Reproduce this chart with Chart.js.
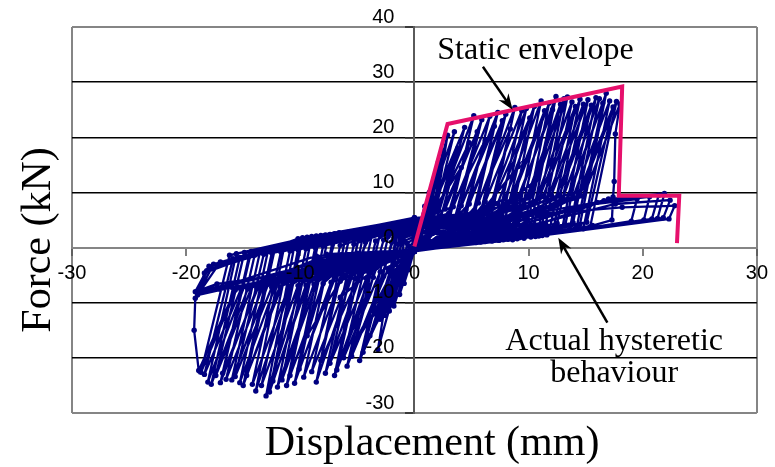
<!DOCTYPE html>
<html><head><meta charset="utf-8">
<script src="https://cdn.jsdelivr.net/npm/chart.js@4"></script>
<style>html,body{margin:0;padding:0;background:#fff}canvas{display:block}</style>
</head><body>
<canvas id="c" width="775" height="467"></canvas>
<script>
// ---------- data ----------
const xTicks = [-30, -20, -10, 0, 10, 20, 30];
const yTicks = [-30, -20, -10, 0, 10, 20, 30, 40];
const xTitle = 'Displacement (mm)';
const yTitle = 'Force (kN)';

// static envelope (displacement mm, force kN)
const envelopeDisp  = [0, 2.9, 18.2, 17.9, 23.2, 23.0];
const envelopeForce = [0.2, 22.4, 29.2, 9.4, 9.4, 0.8];

// measured hysteresis, one list of [displacement, force] per load cycle
const cycles = [
 [[0,0],[0.5,4],[0.25,1],[0,-0.3],[-0.5,-4],[-0.25,-0.5]],
 [[0,0.8],[0.9,7.5],[0.45,1.4],[0,-0.5],[-0.9,-6.5],[-0.45,0.2]],
 [[0,1.2],[1.3,10],[0.65,1.6],[0,-0.4],[-1.3,-8.5],[-0.65,0.8]],
 [[0,1.6],[0.5,3.4],[1.7,12.5],[0.9,1.8],[0,-0.6],[-0.6,-3],[-1.8,-10.6],[-0.9,1.2]],
 [[0,2.0],[0.7,3.8],[2.1,15.5],[1.1,2.0],[0,-0.2],[-0.8,-3.2],[-2.2,-11.5],[-1.1,1.6]],
 [[0,2.4],[0.9,4.2],[2.5,17.5],[1.3,2.2],[0,-0.5],[-1.0,-3.4],[-2.6,-12.3],[-1.3,2.0]],
 [[0,2.7],[1.0,4.6],[2.9,20.4],[1.5,2.5],[0.6,0.9],[0,-0.3],[-1.1,-3.6],[-3.0,-13],[-1.5,2.2]],
 [[0,3.0],[1.1,5.0],[3.2,15],[1.6,2.6],[0.7,1.0],[0,-0.6],[-1.2,-3.8],[-3.2,-18.5],[-1.6,2.4]],
 [[0,3.3],[0.9,5.6],[3.5,21],[1.4,3.0],[0.8,1.2],[0,-0.2],[-1.0,-4.0],[-3.5,-12],[-1.0,1.2],[-0.4,3.2]],
 [[0,3.5],[0.9,5.1],[3.8,18],[1.6,2.6],[0.9,0.9],[0,-0.5],[-0.9,-4.4],[-3.9,-16],[-1.4,0.6],[-0.6,3.4]],
 [[0,3.8],[1.0,4.7],[4.1,14.5],[1.8,3.4],[1.0,1.0],[0,-0.7],[-1.2,-3.9],[-4.2,-14],[-1.8,1.8],[-0.8,3.6]],
 [[0,4.0],[1.2,6.0],[4.4,21.8],[2.1,3.8],[1.2,1.4],[0,-0.4],[-1.3,-4.6],[-4.5,-19],[-2.0,1.0],[-1.0,3.6]],
 [[0,4.2],[1.6,5.4],[4.8,19],[2.5,2.8],[1.4,1.1],[0,-0.6],[-1.6,-4.2],[-4.8,-20.5],[-2.3,2.0],[-1.2,3.2]],
 [[0,4.4],[2.0,6.6],[5.2,23.9],[2.9,3.6],[1.6,0.9],[0,-0.3],[-2.0,-4.8],[-5.2,-17],[-2.7,1.4],[-1.4,3.7]],
 [[0,3.6],[2.3,5.8],[5.5,21],[3.2,2.6],[1.8,1.3],[0,-0.5],[-2.3,-3.8],[-5.5,-19.7],[-3.0,2.6],[-1.6,3.0]],
 [[0,4.6],[2.7,7.0],[5.9,23.2],[3.6,3.9],[2.0,1.6],[0,-0.2],[-2.7,-5.2],[-5.9,-21.5],[-3.4,1.2],[-1.8,3.4]],
 [[0,4.1],[3.0,6.2],[6.2,19.5],[3.9,2.9],[2.2,1.0],[0,-0.7],[-3.0,-4.4],[-6.2,-20],[-3.7,2.4],[-2.0,3.9]],
 [[0,4.8],[3.4,7.4],[6.6,23.8],[4.3,4.0],[2.4,1.5],[0,-0.4],[-3.3,-3.6],[-6.5,-9],[-4.0,1.6],[-2.2,2.8]],
 [[0,3.2],[3.2,2.6],[3.8,6.0],[7.0,22],[4.7,2.7],[2.6,0.8],[0,-0.6],[-3.1,-2.0],[-3.6,-5.4],[-6.8,-22.2],[-4.3,1.0],[-2.4,3.6]],
 [[0,4.9],[3.3,4.6],[4.1,7.6],[7.3,24.5],[5.0,3.6],[2.8,1.4],[0,-0.3],[-3.2,-3.4],[-3.8,-4.6],[-7.0,-23.2],[-4.5,2.2],[-2.6,2.6]],
 [[0,4.3],[3.5,3.4],[4.5,6.8],[7.7,23],[5.4,2.9],[3.0,1.1],[0,-0.5],[-3.3,-1.4],[-4.2,-5.6],[-7.4,-21],[-4.9,1.4],[-2.8,3.5]],
 [[0,5.0],[3.6,5.4],[4.8,7.9],[8.0,24.2],[5.7,4.1],[3.2,1.7],[0,-0.2],[-3.5,-3.9],[-4.6,-4.4],[-7.8,-22.8],[-5.3,0.6],[-3.0,2.4]],
 [[0,2.8],[3.8,2.2],[5.2,6.4],[8.4,21.5],[6.1,2.5],[3.4,0.9],[0,-0.7],[-3.7,-2.6],[-5.0,-5.8],[-8.2,-20.5],[-5.7,1.8],[-3.2,3.4]],
 [[0,5.1],[4.0,4.2],[5.6,8.1],[8.8,25.4],[6.5,3.4],[3.6,1.3],[0,-0.4],[-3.9,-1.2],[-5.4,-4.8],[-8.6,-24.4],[-6.1,1.2],[-3.4,2.9]],
 [[0,4.0],[4.1,6.0],[5.9,6.6],[9.1,14.7],[6.8,3.8],[3.8,1.6],[0,-0.6],[-4.1,-4.3],[-5.8,-6.0],[-9.0,-22.5],[-6.5,0.4],[-3.6,2.2]],
 [[0,4.7],[4.2,3.0],[6.2,8.3],[9.4,24.8],[7.1,2.7],[4.0,0.9],[0,-0.3],[-4.2,-2.2],[-6.2,-5.0],[-9.4,-16],[-6.9,1.6],[-3.8,3.3]],
 [[0,5.2],[4.4,5.0],[6.6,7.6],[9.8,25.2],[7.5,3.3],[4.2,1.2],[0,-0.5],[-4.4,-3.6],[-6.5,-6.1],[-9.7,-23.5],[-7.2,0.8],[-4.0,2.6]],
 [[0,3.9],[4.5,2.4],[6.9,8.5],[10.1,23.5],[7.8,4.0],[4.4,1.7],[0,-0.7],[-4.5,-1.6],[-6.9,-5.2],[-10.1,-22],[-7.6,1.4],[-4.2,3.1]],
 [[0,5.0],[4.7,4.4],[7.3,8.0],[10.5,25.6],[8.2,2.6],[4.6,1.0],[0,-0.2],[-4.7,-4.4],[-7.3,-6.3],[-10.5,-24.6],[-8.0,0.3],[-4.4,2.0]],
 [[0,4.4],[4.8,3.6],[7.5,7.0],[10.7,12.3],[8.4,3.6],[4.8,1.4],[0,-0.5],[-4.9,-2.8],[-7.7,-5.4],[-10.9,-23.2],[-8.4,1.1],[-4.6,3.0]],
 [[0,5.3],[5.0,6.2],[7.9,8.8],[11.1,26.6],[8.8,3.0],[5.0,1.1],[0,-0.4],[-5.0,-1.0],[-8.0,-6.5],[-11.2,-25],[-8.7,0.0],[-4.8,2.4]],
 [[0,4.5],[5.1,2.8],[8.2,7.7],[11.4,24.8],[9.1,4.1],[5.2,1.8],[0,-0.6],[-5.2,-3.8],[-8.4,-5.6],[-11.6,-24],[-9.1,0.9],[-5.0,2.9]],
 [[0,5.1],[5.3,4.8],[8.6,9.0],[11.8,26.2],[9.5,2.5],[5.4,0.9],[0,-0.3],[-5.4,-2.4],[-8.8,-6.6],[-12.0,-25.3],[-9.5,-0.2],[-5.2,1.8]],
 [[0,3.7],[5.4,3.4],[8.9,8.2],[12.1,25],[9.8,3.5],[5.6,1.5],[0,-0.7],[-5.6,-4.6],[-9.2,-5.8],[-12.4,-24.2],[-9.9,0.7],[-5.4,2.7]],
 [[0,5.4],[5.6,5.6],[9.2,9.2],[12.4,27.4],[10.1,2.9],[5.8,1.0],[0,-0.4],[-5.7,-1.8],[-9.5,-6.8],[-12.7,-26.2],[-10.2,-0.4],[-5.6,2.2]],
 [[0,4.6],[5.8,2.3],[9.6,7.8],[12.8,26],[10.5,4.2],[6.0,1.9],[0,-0.5],[-5.9,-3.2],[-9.8,-6.0],[-13.0,-26.9],[-10.5,0.5],[-5.8,2.8]],
 [[0,5.0],[5.9,4.1],[9.9,9.0],[13.1,27],[10.8,2.6],[6.2,1.1],[0,-0.2],[-6.0,-2.0],[-10.2,-6.9],[-13.4,-25],[-10.9,-0.6],[-6.0,1.6]],
 [[0,5.3],[6.0,6.4],[10.2,9.3],[13.4,27.3],[11.1,3.4],[6.4,1.4],[0,-0.6],[-6.3,-4.0],[-10.7,-6.2],[-13.9,-26],[-11.4,0.3],[-6.2,2.6]],
 [[0,4.2],[6.2,3.1],[10.6,8.4],[13.8,26.4],[11.5,4.3],[6.6,2.0],[0,-0.4],[-6.4,-1.3],[-11.0,-7.0],[-14.2,-24.8],[-11.7,-0.8],[-6.4,2.0]],
 [[0,5.1],[6.3,5.2],[10.9,8.9],[14.1,25.6],[11.8,2.8],[6.8,1.2],[0,-0.7],[-6.6,-3.4],[-11.5,-6.4],[-14.7,-23.2],[-12.2,0.0],[-6.6,2.7]],
 [[0,5.4],[6.5,2.7],[11.3,9.4],[14.5,26.9],[12.2,3.7],[7.0,1.6],[0,-0.3],[-6.8,-2.5],[-11.8,-7.1],[-15.0,-25],[-12.5,-1.0],[-6.8,1.5]],
 [[0,4.5],[6.7,4.5],[11.6,8.6],[14.8,26],[12.5,4.4],[7.2,2.1],[0,-0.5],[-6.9,-4.8],[-12.1,-6.5],[-15.3,-24.5],[-12.8,-0.3],[-7.0,2.5]],
 [[0,5.2],[6.8,6.0],[12.0,9.5],[15.2,26.8],[12.9,3.0],[7.4,1.3],[0,-0.6],[-7.1,-1.6],[-12.5,-7.2],[-15.7,-23.4],[-13.2,-1.2],[-7.2,1.9]],
 [[0,4.8],[7.0,3.3],[12.3,8.8],[15.5,25.8],[13.2,4.0],[7.6,1.8],[0,-0.4],[-7.2,-3.6],[-12.8,-6.6],[-16.0,-24],[-13.5,-0.5],[-7.4,2.4]],
 [[0,5.3],[7.2,5.0],[12.7,9.6],[15.9,27.2],[13.6,3.3],[7.8,1.4],[0,-0.2],[-7.4,-2.2],[-13.3,-7.3],[-16.5,-23.9],[-14.0,-1.4],[-7.6,1.4]],
 [[0,5.0],[7.3,2.6],[13.0,9.0],[16.2,27],[13.9,4.5],[8.0,2.2],[0,-0.7],[-7.6,-4.2],[-13.6,-6.8],[-16.8,-22.8],[-14.3,-0.7],[-7.8,2.3]],
 [[0,4.6],[7.4,4.3],[13.3,8.7],[16.5,26.2],[14.2,3.6],[8.2,1.5],[0,-0.4],[-7.7,-1.2],[-13.8,-7.4],[-17.0,-24.5],[-14.5,-1.6],[-8.0,1.8]],
 [[0,5.4],[7.6,6.2],[13.6,9.7],[16.8,28],[14.5,4.2],[8.4,1.9],[0,-0.5],[-7.8,-3.0],[-14.2,-6.9],[-17.4,-23.2],[-14.9,-0.9],[-8.2,2.2]],
 [[0,5.1],[7.7,3.5],[13.9,9.2],[17.1,26.6],[14.8,3.4],[8.6,1.4],[0,-0.6],[-8.0,-2.6],[-14.6,-7.5],[-17.8,-24.8],[-15.3,-1.8],[-8.4,1.2]],
 [[0,4.7],[7.8,5.4],[14.2,8.9],[17.4,25.5],[15.1,4.6],[8.8,2.2],[0,-0.3],[-8.1,-4.5],[-14.9,-7.0],[-18.1,-24.4],[-15.6,-1.1],[-8.6,2.1]],
 [[0,5.3],[8.0,2.9],[14.5,9.5],[17.7,26.5],[15.4,3.8],[9.0,1.6],[0,-0.5],[-8.3,-1.9],[-15.2,-7.6],[-18.4,-23],[-15.9,-2.0],[-8.8,1.6]],
 [[0,5.0],[8.1,4.6],[14.8,9.3],[18.0,26],[17.6,20.6],[17.5,12],[17.4,9.2],[17.3,5.0],[15.6,4.0],[9.2,1.8],[0,-0.4],[-8.4,-3.8],[-15.5,-7.1],[-18.7,-22.6],[-16.2,-1.4],[-9.0,2.0]],
 [[0,4.9],[8.8,3.8],[15.4,7.8],[19.5,8.8],[19.0,4.8],[9.6,1.7],[0,-0.6],[-8.5,-2.4],[-15.7,-7.7],[-18.9,-22.3],[-19.3,-15],[-19.2,-9.2],[-17.0,-2.6],[-9.2,1.1]],
 [[0,4.7],[9.3,5.8],[16.0,8.2],[20.6,9.2],[20.1,5.0],[10.2,1.9],[0,-0.4],[-8.6,-4.2],[-16.0,-7.2],[-19.0,-8.6],[-17.6,-3.0],[-9.4,1.9]],
 [[0,4.4],[9.6,3.2],[16.6,8.5],[21.4,9.5],[20.8,5.2],[10.6,2.0],[0,-0.5],[-8.6,-1.5],[-16.4,-6.8],[-19.2,-8],[-18.0,-3.4],[-9.6,1.4]],
 [[0,4.6],[9.9,5.0],[17.0,8.8],[21.9,9.8],[21.3,5.3],[10.9,2.1],[0,-0.3],[-8.5,-3.4],[-16.8,-7.0],[-18.8,-7.6],[-17.8,-3.8],[-9.8,1.8]],
 [[0,4.3],[10.1,4.0],[17.6,7.9],[22.4,8.6],[21.8,5.4],[11.2,2.2],[0,-0.6],[-8.6,-2.8],[-17.0,-7.3],[-19.0,-8.2],[-18.2,-4.2],[-10.0,1.0]],
 [[0,4.1],[10.3,6.0],[18.2,7.3],[22.8,7.6],[22.3,5.2],[11.6,2.3],[0,-0.4],[-8.5,-4.0],[-17.3,-6.6],[-18.9,-7.8],[-18.4,-4.6],[-10.2,1.6],[0,3.6]]
];

// annotation anchors (data units)
const staticLabel = {text: 'Static envelope', x: 2.0, y: 34.2};
const staticArrow = {from: [6.0, 32.8], to: [8.6, 25.0]};
const actualLabel = {lines: ['Actual hysteretic', 'behaviour'], x: 17.5, y: [-18.6, -24.4]};
const actualArrow = {from: [16.9, -13.6], to: [12.6, 1.8]};

// ---------- chart ----------
const navy = '#000080';
const pink = '#E6106C';
const frameGray = '#858585';
const tickFont = {family: '"Liberation Sans", Arial, sans-serif', size: 20};
const yLabelGap = 20;

const hysteresisData = cycles.flat().map(([x, y]) => ({x, y}));
const envelopeData = envelopeDisp.map((x, i) => ({x, y: envelopeForce[i]}));

function drawArrow(ctx, x1, y1, x2, y2) {
  const ang = Math.atan2(y2 - y1, x2 - x1);
  const L = 16, W = 6;
  const bx = x2 - L * Math.cos(ang), by = y2 - L * Math.sin(ang);
  ctx.beginPath();
  ctx.moveTo(x1, y1);
  ctx.lineTo(x2 - 8 * Math.cos(ang), y2 - 8 * Math.sin(ang));
  ctx.lineWidth = 2.5;
  ctx.strokeStyle = '#000';
  ctx.stroke();
  ctx.beginPath();
  ctx.moveTo(x2, y2);
  ctx.lineTo(bx + W * Math.sin(ang), by - W * Math.cos(ang));
  ctx.lineTo(x2 - 11 * Math.cos(ang), y2 - 11 * Math.sin(ang));
  ctx.lineTo(bx - W * Math.sin(ang), by + W * Math.cos(ang));
  ctx.closePath();
  ctx.fillStyle = '#000';
  ctx.fill();
}

// y-axis crosses at x = 0: move its tick labels left of the tick marks
const yLabelPlugin = {
  id: 'yLabelGap',
  beforeDraw(chart) {
    const s = chart.scales.y;
    s.getLabelItems().forEach(it => {
      if (!it._moved) { it.options.translation[0] -= yLabelGap; it._moved = true; }
    });
  }
};

const annotPlugin = {
  id: 'annot',
  afterDraw(chart) {
    const {ctx, scales: {x, y}} = chart;
    const px = v => x.getPixelForValue(v), py = v => y.getPixelForValue(v);
    ctx.save();
    ctx.fillStyle = '#000';
    ctx.textBaseline = 'alphabetic';
    ctx.font = '42px "Liberation Serif", "Times New Roman", serif';
    ctx.textAlign = 'center';
    ctx.fillText(xTitle, 432, 455);
    ctx.save();
    ctx.translate(50, 240);
    ctx.rotate(-Math.PI / 2);
    ctx.fillText(yTitle, 0, 0);
    ctx.restore();
    ctx.font = '32px "Liberation Serif", "Times New Roman", serif';
    ctx.textAlign = 'left';
    ctx.fillText(staticLabel.text, px(staticLabel.x), py(staticLabel.y));
    ctx.textAlign = 'center';
    actualLabel.lines.forEach((t, i) => ctx.fillText(t, px(actualLabel.x), py(actualLabel.y[i])));
    drawArrow(ctx, px(staticArrow.from[0]), py(staticArrow.from[1]), px(staticArrow.to[0]), py(staticArrow.to[1]));
    drawArrow(ctx, px(actualArrow.from[0]), py(actualArrow.from[1]), px(actualArrow.to[0]), py(actualArrow.to[1]));
    ctx.restore();
  }
};

new Chart(document.getElementById('c'), {
  type: 'scatter',
  data: {
    datasets: [
      {label: 'Static envelope', data: envelopeData, showLine: true, borderColor: pink, backgroundColor: pink,
       borderWidth: 4, pointRadius: 0, borderJoinStyle: 'miter', order: 0},
      {label: 'Actual hysteretic behaviour', data: hysteresisData, showLine: true, borderColor: navy,
       backgroundColor: navy, borderWidth: 2.3, pointRadius: 2.7, pointBorderWidth: 0, order: 1}
    ]
  },
  options: {
    responsive: false, animation: false, devicePixelRatio: 1,
    layout: {padding: {left: 72, right: 13, top: 27, bottom: 54}},
    plugins: {legend: {display: false}, tooltip: {enabled: false}},
    scales: {
      x: {
        type: 'linear', position: {y: 0}, min: -30, max: 30,
        afterBuildTicks: s => { s.ticks = xTicks.map(v => ({value: v})); },
        grid: {
          color: c => (c.tick && Math.abs(c.tick.value) === 30) ? frameGray : 'rgba(0,0,0,0)',
          lineWidth: 2, tickColor: '#555', tickLength: 7, tickWidth: 1.5
        },
        border: {color: frameGray, width: 2},
        ticks: {font: tickFont, color: '#000', padding: 7, maxRotation: 0, autoSkip: false, z: 1}
      },
      y: {
        type: 'linear', position: {x: 0}, min: -30, max: 40,
        afterBuildTicks: s => { s.ticks = yTicks.map(v => ({value: v})); },
        grid: {
          color: c => {
            const v = c.tick ? c.tick.value : null;
            return (v === 40 || v === -30 || v === 0) ? frameGray : '#000';
          },
          lineWidth: c => (c.tick && (c.tick.value === 40 || c.tick.value === -30 || c.tick.value === 0)) ? 2 : 1.5,
          tickColor: '#222', tickLength: 8, tickWidth: 1.5
        },
        border: {color: '#5a5a5a', width: 2},
        ticks: {font: tickFont, color: '#000', padding: 11, labelOffset: -10, autoSkip: false, z: 1}
      }
    }
  },
  plugins: [yLabelPlugin, annotPlugin]
});
</script>
</body></html>
